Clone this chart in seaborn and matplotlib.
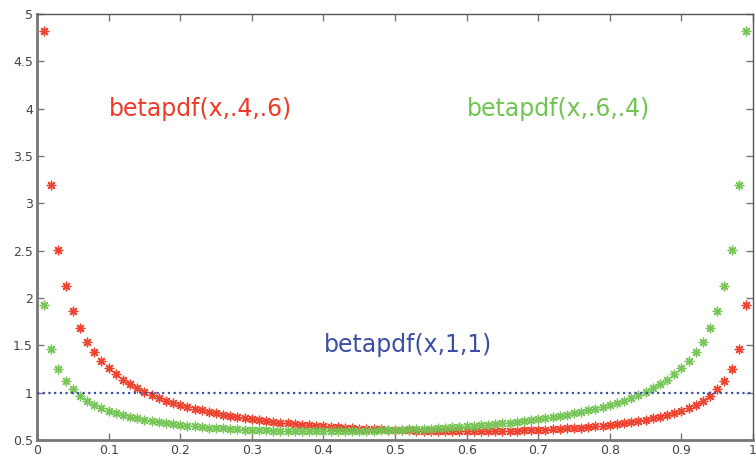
import matplotlib
matplotlib.use("Agg")
import matplotlib.pyplot as plt
import seaborn as sns
import pandas as pd

# ---- data ----
x_vals = [0.01, 0.02, 0.03, 0.04, 0.05, 0.06, 0.07, 0.08, 0.09, 0.10,
          0.11, 0.12, 0.13, 0.14, 0.15, 0.16, 0.17, 0.18, 0.19, 0.20,
          0.21, 0.22, 0.23, 0.24, 0.25, 0.26, 0.27, 0.28, 0.29, 0.30,
          0.31, 0.32, 0.33, 0.34, 0.35, 0.36, 0.37, 0.38, 0.39, 0.40,
          0.41, 0.42, 0.43, 0.44, 0.45, 0.46, 0.47, 0.48, 0.49, 0.50,
          0.51, 0.52, 0.53, 0.54, 0.55, 0.56, 0.57, 0.58, 0.59, 0.60,
          0.61, 0.62, 0.63, 0.64, 0.65, 0.66, 0.67, 0.68, 0.69, 0.70,
          0.71, 0.72, 0.73, 0.74, 0.75, 0.76, 0.77, 0.78, 0.79, 0.80,
          0.81, 0.82, 0.83, 0.84, 0.85, 0.86, 0.87, 0.88, 0.89, 0.90,
          0.91, 0.92, 0.93, 0.94, 0.95, 0.96, 0.97, 0.98, 0.99]

beta_04_06 = [4.817, 3.191, 2.512, 2.123, 1.865, 1.678, 1.537, 1.425, 1.333, 1.257,
              1.193, 1.137, 1.089, 1.046, 1.008, 0.975, 0.944, 0.917, 0.892, 0.869,
              0.849, 0.829, 0.812, 0.795, 0.780, 0.766, 0.753, 0.741, 0.730, 0.719,
              0.709, 0.700, 0.691, 0.683, 0.675, 0.668, 0.661, 0.655, 0.649, 0.644,
              0.638, 0.633, 0.629, 0.625, 0.621, 0.617, 0.614, 0.611, 0.608, 0.605,
              0.603, 0.601, 0.599, 0.598, 0.596, 0.595, 0.594, 0.594, 0.594, 0.593,
              0.594, 0.594, 0.595, 0.595, 0.597, 0.598, 0.600, 0.602, 0.604, 0.607,
              0.610, 0.613, 0.617, 0.622, 0.626, 0.632, 0.637, 0.644, 0.651, 0.659,
              0.668, 0.677, 0.688, 0.700, 0.713, 0.728, 0.744, 0.763, 0.785, 0.810,
              0.839, 0.874, 0.916, 0.968, 1.035, 1.124, 1.254, 1.465, 1.922]

beta_06_04 = [1.922, 1.465, 1.254, 1.124, 1.035, 0.968, 0.916, 0.874, 0.839, 0.810,
              0.785, 0.763, 0.744, 0.728, 0.713, 0.700, 0.688, 0.677, 0.668, 0.659,
              0.651, 0.644, 0.637, 0.632, 0.626, 0.622, 0.617, 0.613, 0.610, 0.607,
              0.604, 0.602, 0.600, 0.598, 0.597, 0.595, 0.595, 0.594, 0.594, 0.593,
              0.594, 0.594, 0.594, 0.595, 0.596, 0.598, 0.599, 0.601, 0.603, 0.605,
              0.608, 0.611, 0.614, 0.617, 0.621, 0.625, 0.629, 0.633, 0.638, 0.644,
              0.649, 0.655, 0.661, 0.668, 0.675, 0.683, 0.691, 0.700, 0.709, 0.719,
              0.730, 0.741, 0.753, 0.766, 0.780, 0.795, 0.812, 0.829, 0.849, 0.869,
              0.892, 0.917, 0.944, 0.975, 1.008, 1.046, 1.089, 1.137, 1.193, 1.257,
              1.333, 1.425, 1.537, 1.678, 1.865, 2.123, 2.512, 3.191, 4.817]

uniform_x = [0.0, 1.0]
uniform_y = [1.0, 1.0]

labels = ["betapdf(x,.4,.6)", "betapdf(x,.6,.4)", "betapdf(x,1,1)"]
label_pos = [(0.1, 4.0), (0.6, 4.0), (0.4, 1.5)]

x_ticks = [0, 0.1, 0.2, 0.3, 0.4, 0.5, 0.6, 0.7, 0.8, 0.9, 1]
x_ticklabels = ["0", "0.1", "0.2", "0.3", "0.4", "0.5", "0.6", "0.7", "0.8", "0.9", "1"]
y_ticks = [0.5, 1, 1.5, 2, 2.5, 3, 3.5, 4, 4.5, 5]
y_ticklabels = ["0.5", "1", "1.5", "2", "2.5", "3", "3.5", "4", "4.5", "5"]

RED = "#ee3b28"
GREEN = "#72c452"
BLUE = "#3c4ea6"

# ---- plot ----
sns.set_theme(style="white")
plt.rcParams["font.family"] = ["DejaVu Sans"]

fig = plt.figure(figsize=(7.56, 4.57), dpi=100)
ax = fig.add_axes([37 / 756, 1 - 440 / 457, (753 - 37) / 756, (440 - 14) / 457])

df_r = pd.DataFrame({"x": x_vals, "y": beta_04_06})
df_g = pd.DataFrame({"x": x_vals, "y": beta_06_04})
df_b = pd.DataFrame({"x": uniform_x, "y": uniform_y})

star = (8, 2, 0)
sns.scatterplot(data=df_r, x="x", y="y", ax=ax, marker=star, s=38,
                color=RED, linewidth=1.0, alpha=0.95, zorder=3)
sns.scatterplot(data=df_g, x="x", y="y", ax=ax, marker=star, s=38,
                color=GREEN, linewidth=1.0, alpha=0.95, zorder=3)
sns.lineplot(data=df_b, x="x", y="y", ax=ax, color=BLUE,
             linestyle=(0, (1, 1.56)), linewidth=1.6, zorder=4)

for txt, (tx, ty), col in zip(labels, label_pos, [RED, GREEN, BLUE]):
    ax.text(tx, ty, txt, color=col, fontsize=17, ha="left", va="center")

ax.set_xlim(0, 1)
ax.set_ylim(0.5, 5)
ax.set_xticks(x_ticks)
ax.set_xticklabels(x_ticklabels)
ax.set_yticks(y_ticks)
ax.set_yticklabels(y_ticklabels)
ax.set_xlabel("")
ax.set_ylabel("")

ax.tick_params(axis="both", direction="in", length=5, width=1, color="#777777",
               labelsize=9, labelcolor="#444444", pad=3,
               top=True, right=True, bottom=True, left=True)

for side in ["top", "right"]:
    ax.spines[side].set_color("#555555")
    ax.spines[side].set_linewidth(1.0)
for side in ["left", "bottom"]:
    ax.spines[side].set_color("#777777")
    ax.spines[side].set_linewidth(2.0)

fig.savefig("out.png", dpi=100)
